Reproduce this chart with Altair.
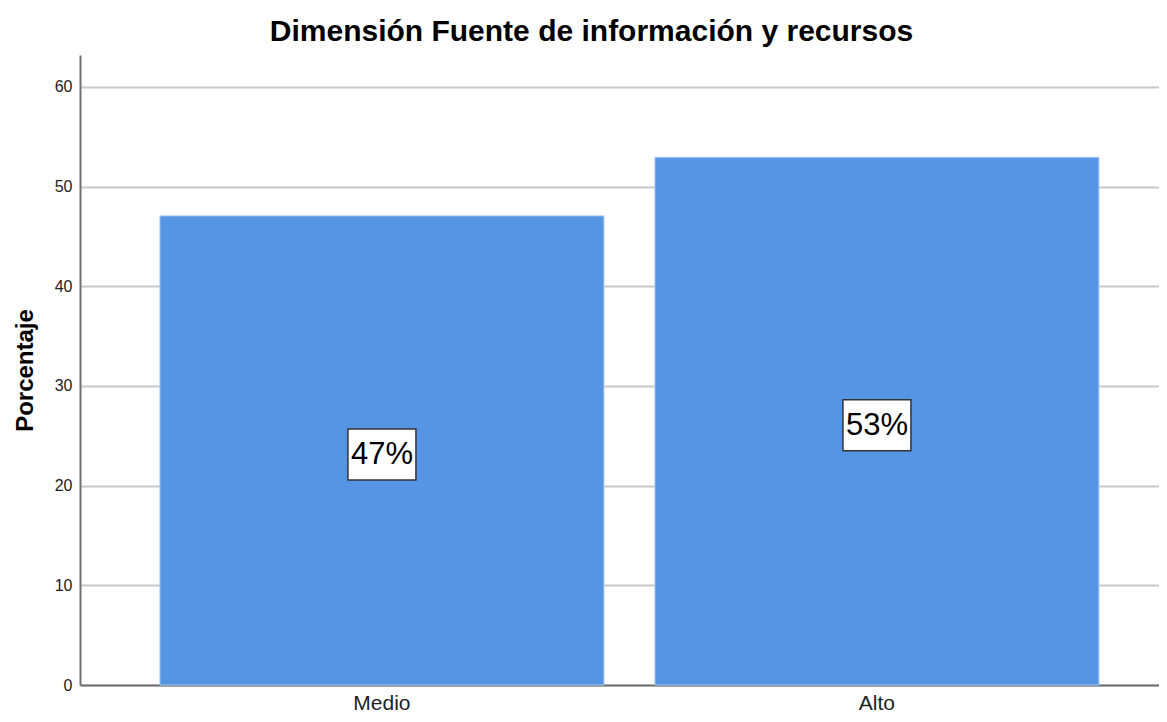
import altair as alt
import pandas as pd

categories = ["Medio", "Alto"]
values = [47.06, 52.94]
labels = ["47%", "53%"]

df = pd.DataFrame({"cat": categories, "val": values, "lab": labels})
df["mid"] = df["val"] / 2

FONT = "Liberation Sans"

x = alt.X("cat:N", sort=categories, title=None,
          scale=alt.Scale(paddingInner=0.103, paddingOuter=0.1414, align=0.571),
          axis=alt.Axis(labelAngle=0, labelFontSize=21, labelFont=FONT, labelColor="#222222",
                        ticks=False, labelPadding=7, domainColor="#707070", domainWidth=2))

y_scale = alt.Scale(domain=[0, 63.2], nice=False, zero=True)

base = alt.Chart(df).encode(x=x)

bars = base.mark_bar(color="#5595E3", stroke="#a9c9f5", strokeWidth=1).encode(
    y=alt.Y("val:Q", scale=y_scale, title="Porcentaje",
            axis=alt.Axis(values=[0, 10, 20, 30, 40, 50, 60], ticks=False, labelFontSize=16,
                          labelFont=FONT, labelColor="#222222", labelPadding=8,
                          grid=True, gridColor="#c8c8c8", gridWidth=2,
                          domainColor="#707070", domainWidth=2,
                          titleFont=FONT, titleFontSize=24, titleFontWeight="bold",
                          titleColor="#000000", titleAngle=270, titleX=-55, titleY=315,
                          titleAlign="center", titleBaseline="middle"))
)

box_path = "M-1,-0.75L1,-0.75L1,0.75L-1,0.75Z"
boxes = base.mark_point(shape=box_path, size=68 * 68, filled=True, fill="white",
                        stroke="#333333", strokeWidth=1.5, opacity=1, yOffset=4).encode(
    y=alt.Y("mid:Q", scale=y_scale)
)

texts = base.mark_text(font=FONT, fontSize=31, color="#000000", yOffset=5,
                       align="center", baseline="middle").encode(
    y=alt.Y("mid:Q", scale=y_scale),
    text="lab:N"
)

chart = alt.layer(bars, boxes, texts).properties(
    width=1079, height=630,
    title=alt.TitleParams("Dimensión Fuente de información y recursos", font=FONT,
                          fontSize=30, fontWeight="bold", color="#000000",
                          anchor="middle", dx=-28, offset=8),
    autosize=alt.AutoSizeParams(type="none"),
    padding={"left": 72, "top": 47, "right": 0, "bottom": 29},
).configure_view(stroke=None).configure_axis(gridCap="butt")

chart.save("out.html", embed_options={"renderer": "svg", "actions": False})
